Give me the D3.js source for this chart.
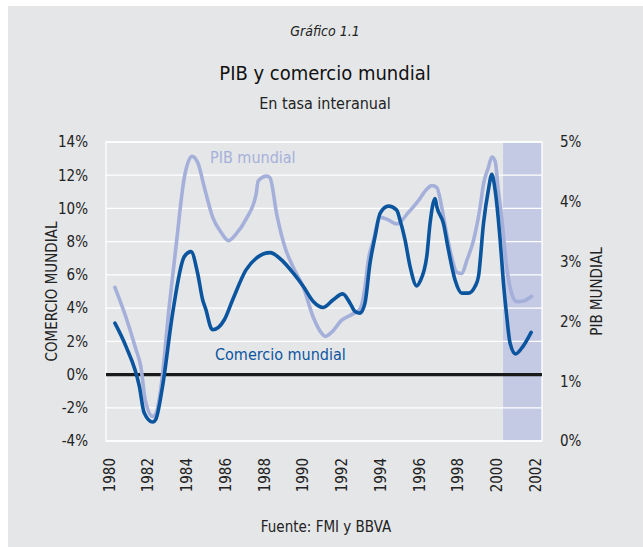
<!DOCTYPE html>
<html><head><meta charset="utf-8">
<script src="https://cdn.jsdelivr.net/npm/d3@7"></script>
<style>
html,body{margin:0;padding:0;background:#fff;}
svg{display:block;}
text{font-family:"Liberation Sans Narrow","DejaVu Sans Condensed","Roboto",sans-serif;}
</style></head>
<body>
<svg id="c" width="643" height="547"></svg>
<script>
// ---- data ----
const comercioYears = [1980.31,1980.88,1981.57,1981.82,1982.26,1982.42,1982.77,1983.29,1983.89,1984.24,1984.58,1984.84,1985.01,1985.27,1985.36,1985.96,1986.39,1987.08,1987.6,1988.32,1989.0,1989.52,1990.04,1990.55,1991.07,1991.58,1992.07,1992.45,1992.71,1992.97,1993.22,1993.48,1993.74,1994.0,1994.43,1994.86,1995.03,1995.29,1995.55,1995.89,1996.06,1996.41,1996.58,1996.84,1996.93,1997.27,1997.53,1997.87,1998.22,1998.56,1998.9,1999.08,1999.34,1999.59,1999.77,1999.94,2000.2,2000.37,2000.54,2000.71,2001.0,2001.32,2001.8];
const comercioValues = [3.1,1.7,-0.7,-2.3,-2.86,-2.7,-0.7,3.7,7.1,7.4,6.1,4.5,3.9,2.8,2.7,3.3,4.5,6.3,7.0,7.34,6.8,6.1,5.3,4.4,4.04,4.5,4.86,4.3,3.8,3.7,4.3,6.7,8.3,9.7,10.14,9.9,9.3,8.1,6.5,5.34,5.6,7.1,9.1,10.6,10.1,9.1,7.5,5.7,4.9,4.9,5.3,5.9,9.1,11.1,12.06,11.1,8.1,5.5,3.5,1.9,1.24,1.6,2.54];
const pibYears = [1980.31,1980.88,1981.39,1981.65,1981.88,1982.26,1982.43,1982.69,1983.11,1983.46,1983.89,1984.29,1984.58,1984.93,1985.36,1985.79,1986.18,1986.56,1987.08,1987.6,1987.71,1988.15,1988.32,1988.66,1989.09,1989.52,1990.04,1990.55,1990.99,1991.16,1991.5,1992.02,1992.62,1992.97,1993.22,1993.39,1993.65,1994.0,1994.34,1994.86,1995.46,1995.98,1996.41,1996.67,1996.93,1997.19,1997.44,1997.7,1997.96,1998.22,1998.48,1998.82,1999.16,1999.34,1999.59,1999.77,1999.94,2000.11,2000.28,2000.54,2000.8,2001.05,2001.4,2001.83];
const pibValues = [2.57,2.07,1.54,1.24,0.68,0.41,0.46,0.9,2.24,3.24,4.4,4.76,4.66,4.24,3.74,3.49,3.35,3.46,3.71,4.13,4.35,4.43,4.4,3.8,3.24,2.9,2.57,2.07,1.8,1.75,1.82,2.02,2.13,2.21,2.57,3.02,3.35,3.74,3.71,3.63,3.82,4.02,4.21,4.27,4.24,3.9,3.46,3.07,2.82,2.8,3.02,3.35,3.9,4.3,4.57,4.75,4.68,4.18,3.74,2.9,2.46,2.33,2.34,2.42];
const yearTicks = [1980,1982,1984,1986,1988,1990,1992,1994,1996,1998,2000,2002];
const leftTicks = [-4,-2,0,2,4,6,8,10,12,14];
const rightTicks = [0,1,2,3,4,5];
const shadeRange = [2000.35, 2002.36];
const xDomain = [1979.85, 2002.36];

// ---- layout ----
const svg = d3.select("#c");
const L = 106, R = 542, T = 142, B = 441;
const bg = "#e5e6e8", dark = "#0b559f", light = "#a5b0da", shadeCol = "#c5cae4", txt = "#222";

svg.append("rect").attr("x",8).attr("y",6).attr("width",635).attr("height",541).attr("fill",bg);

const x = d3.scaleLinear().domain(xDomain).range([L,R]);
const yL = d3.scaleLinear().domain([-4,14]).range([B,T]);
const yR = d3.scaleLinear().domain([0,5]).range([B,T]);

// shaded forecast
svg.append("rect").attr("x",x(shadeRange[0])).attr("y",T)
  .attr("width",x(shadeRange[1])-x(shadeRange[0])).attr("height",B-T).attr("fill",shadeCol);

// gridlines
svg.append("g").selectAll("line").data(leftTicks).join("line")
  .attr("x1",L).attr("x2",R).attr("y1",d=>yL(d)).attr("y2",d=>yL(d))
  .attr("stroke","#fff").attr("stroke-width",1.3);
svg.append("rect").attr("x",L).attr("y",T).attr("width",R-L).attr("height",B-T)
  .attr("fill","none").attr("stroke","#fff").attr("stroke-width",1.3);

// zero line
svg.append("line").attr("x1",L).attr("x2",R).attr("y1",yL(0)).attr("y2",yL(0))
  .attr("stroke","#1a1a1a").attr("stroke-width",3.2);

// lines
const pibData = pibYears.map((d,i)=>[d,pibValues[i]]);
const comData = comercioYears.map((d,i)=>[d,comercioValues[i]]);
svg.append("path").datum(pibData)
  .attr("d",d3.line().x(d=>x(d[0])).y(d=>yR(d[1])).curve(d3.curveMonotoneX))
  .attr("fill","none").attr("stroke",light).attr("stroke-width",3.6).attr("stroke-linejoin","round").attr("stroke-linecap","round");
svg.append("path").datum(comData)
  .attr("d",d3.line().x(d=>x(d[0])).y(d=>yL(d[1])).curve(d3.curveMonotoneX))
  .attr("fill","none").attr("stroke",dark).attr("stroke-width",3.6).attr("stroke-linejoin","round").attr("stroke-linecap","round");

// axes
const axL = d3.axisLeft(yL).tickValues(leftTicks).tickFormat(d=>d+"%").tickSize(0).tickPadding(18);
const gL = svg.append("g").attr("transform",`translate(${L},0)`).call(axL);
const axR = d3.axisRight(yR).tickValues(rightTicks).tickFormat(d=>d+"%").tickSize(0).tickPadding(18);
const gR = svg.append("g").attr("transform",`translate(${R},0)`).call(axR);
const axB = d3.axisBottom(x).tickValues(yearTicks).tickFormat(d3.format("d")).tickSize(0).tickPadding(0);
const gB = svg.append("g").attr("transform",`translate(0,${B})`).call(axB);
[gL,gR,gB].forEach(g=>{g.select(".domain").remove();
  g.selectAll("text").attr("fill",txt).style("font-size","15px").style("font-family",null);});
gB.selectAll("text").attr("transform","rotate(-90)").attr("text-anchor","end")
  .attr("x",-17).attr("y",0).attr("dy","0.35em");

// axis titles
svg.append("text").attr("transform",`translate(57,${(T+B)/2}) rotate(-90)`)
  .attr("text-anchor","middle").attr("fill",txt).style("font-size","15px").text("COMERCIO MUNDIAL");
svg.append("text").attr("transform",`translate(602,${(T+B)/2}) rotate(-90)`)
  .attr("text-anchor","middle").attr("fill",txt).style("font-size","15px").text("PIB MUNDIAL");

// series labels
svg.append("text").attr("x",210).attr("y",163).attr("fill",light).style("font-size","16px").text("PIB mundial");
svg.append("text").attr("x",215).attr("y",360).attr("fill",dark).style("font-size","16px").text("Comercio mundial");

// titles
svg.append("text").attr("x",325).attr("y",36).attr("text-anchor","middle").attr("fill",txt)
  .style("font-size","14px").style("font-style","italic").text("Gráfico 1.1");
svg.append("text").attr("x",325).attr("y",80).attr("text-anchor","middle").attr("fill","#111")
  .style("font-size","20px").text("PIB y comercio mundial");
svg.append("text").attr("x",325).attr("y",109).attr("text-anchor","middle").attr("fill",txt)
  .style("font-size","16px").text("En tasa interanual");
svg.append("text").attr("x",326).attr("y",532).attr("text-anchor","middle").attr("fill",txt)
  .style("font-size","15px").text("Fuente: FMI y BBVA");
</script>
</body></html>
